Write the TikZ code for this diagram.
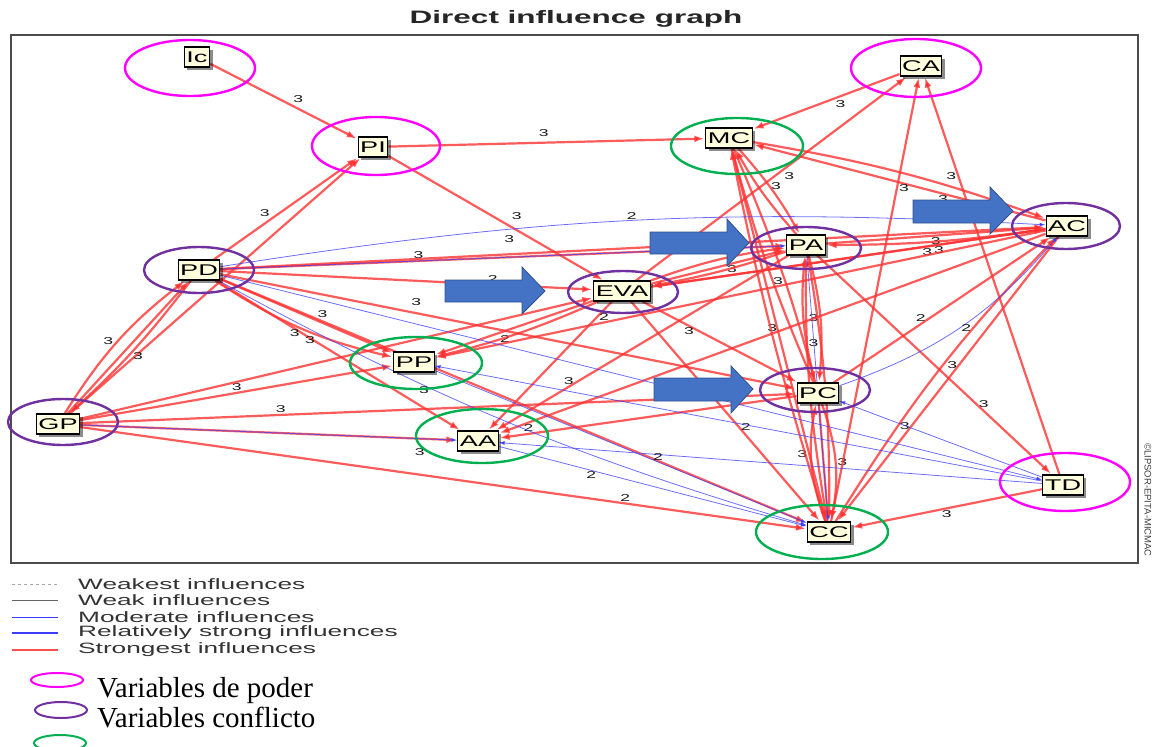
\documentclass[tikz,border=0pt]{standalone}
\usepackage{fontspec}
\setmainfont{Liberation Serif}
\newfontfamily\micmac[FakeStretch=1.75]{Liberation Sans}
\newfontfamily\plainsans{Liberation Sans}
\usetikzlibrary{arrows.meta,shadows}
\pgfdeclarelayer{edges}
\pgfsetlayers{edges,main}

\definecolor{strongred}{RGB}{255,50,50}
\definecolor{modblue}{RGB}{60,60,255}
\definecolor{boxfill}{RGB}{255,255,222}
\definecolor{poder}{RGB}{255,0,255}
\definecolor{conflicto}{RGB}{112,48,160}
\definecolor{otras}{RGB}{0,176,80}
\definecolor{bigblue}{RGB}{68,114,196}
\definecolor{bigblueline}{RGB}{47,82,143}

\tikzset{
  >={Latex[length=10pt,width=7pt]},
  var/.style={draw=black, line width=1.1pt, fill=boxfill, inner xsep=2pt, inner ysep=0pt,
    minimum height=20pt, text height=11pt, text depth=0pt,
    font=\micmac\fontsize{15.5}{15.5}\selectfont,
    drop shadow={shadow xshift=3pt, shadow yshift=-3pt, fill=black, opacity=0.45}},
  strongest/.style={->, draw=strongred, draw opacity=0.8, line width=2.2pt, shorten >=1pt},
  moderate/.style={-{Latex[length=6pt,width=4pt]}, draw=modblue, draw opacity=0.75, line width=0.8pt},
  wlabel/.style={font=\micmac\fontsize{10}{10}\selectfont, text=black!90, inner sep=1pt},
  ring/.style={line width=2.4pt},
  bigarrow/.style={fill=bigblue, draw=bigblueline, line width=0.8pt},
  legtext/.style={anchor=west, font=\micmac\fontsize{15}{15}\selectfont, text=black!80, inner sep=0pt},
}

\begin{document}
\begin{tikzpicture}[x=1pt, y=-1pt]
    \useasboundingbox (0,0) rectangle (1155,746);

    \node[font=\micmac\bfseries\fontsize{18}{18}\selectfont, text=black!85] (title) at (576,19) {Direct influence graph};
    \draw[black!70, line width=1.5pt] (11,35) rectangle (1138,563);

    % variables
    \node[var] (Ic) at (197,57) {Ic};
    \node[var] (PI) at (373,147) {PI};
    \node[var] (CA) at (921,66) {CA};
    \node[var] (MC) at (729,138) {MC};
    \node[var] (PD) at (199,270) {PD};
    \node[var] (EVA) at (622,291) {EVA};
    \node[var] (PA) at (806,245) {PA};
    \node[var] (AC) at (1067,226) {AC};
    \node[var] (PP) at (414,362) {PP};
    \node[var] (PC) at (818,393) {PC};
    \node[var] (GP) at (58,424) {GP};
    \node[var] (AA) at (478,441) {AA};
    \node[var] (TD) at (1063,485) {TD};
    \node[var] (CC) at (829,532) {CC};

    \begin{pgfonlayer}{edges}
    % strongest influences
    \draw[strongest] (Ic) -- node[wlabel, pos=.55, above right] {3} (PI);
    \draw[strongest] (PI) -- node[wlabel, pos=.49, above=4pt] {3} (MC);
    \draw[strongest] (PI) -- node[wlabel, pos=.55, above right=3pt] {3} (EVA);
    \draw[strongest] (PD) -- node[wlabel, pos=.4, above left] {3} (PI);
    \draw[strongest] (GP) -- (PI);
    \draw[strongest] (GP) to[bend left=10] node[wlabel, pos=.5, left=3pt] {3} (PD);
    \draw[strongest] (PD) to[bend left=5] node[wlabel, pos=.55, right=3pt] {3} (GP);
    \draw[strongest] (GP) -- (PD);
    \draw[strongest] (GP) -- node[wlabel, pos=.5, above] {3} (PP);
    \draw[strongest] (GP) -- (EVA);
    \draw[strongest] (GP) -- node[wlabel, pos=.28, above] {3} (PC);
    \draw[strongest] (GP) -- node[wlabel, pos=.9, below=8pt] {3} (AA);
    \draw[strongest] (GP) -- node[wlabel, pos=.75, above] {2} (CC);
    \draw[strongest] (PD) -- node[wlabel, pos=.35, above] {3} (PA);
    \draw[strongest] (PD) -- node[wlabel, pos=.35, above=10pt] {3} (AC);
    \draw[strongest] (PD) -- node[wlabel, pos=.73, above] {2} (EVA);
    \draw[strongest] (PD) -- node[wlabel, pos=.34, above=5pt] {3} (PC);
    \draw[strongest] (PD) -- node[wlabel, pos=.55, above right] {3} (PP);
    \draw[strongest] (PD) -- node[wlabel, pos=.35, left] {3} (AA);
    \draw[strongest] (PD) to[bend right=10] node[wlabel, pos=.6, below left] {3} (PP);
    \draw[strongest] (PD) -- (CC);
    \draw[strongest] (EVA) -- node[wlabel, pos=.6, below] {3} (PA);
    \draw[strongest] (EVA) to[bend left=6] node[wlabel, pos=.6, above] {3} (PA);
    \draw[strongest] (PA) to[bend left=4] (EVA);
    \draw[strongest] (EVA) -- node[wlabel, pos=.73, below] {3} (AC);
    \draw[strongest] (EVA) -- node[wlabel, pos=.6, below right] {2} (PP);
    \draw[strongest] (EVA) to[bend left=5] (PP);
    \draw[strongest] (EVA) -- node[wlabel, pos=.12, right] {2} (AA);
    \draw[strongest] (EVA) -- node[wlabel, pos=.3, below] {3} (PC);
    \draw[strongest] (EVA) -- node[wlabel, pos=.57, right] {2} (CC);
    \draw[strongest] (EVA) -- node[wlabel, pos=.54, below right] {3} (CA);
    \draw[strongest] (PA) -- node[wlabel, pos=.5, below] {3} (AC);
    \draw[strongest] (AC) to[bend left=4] (PA);
    \draw[strongest] (MC) to[bend left=6] node[wlabel, pos=.45, right] {3} (PA);
    \draw[strongest] (PA) to[bend left=6] (MC);
    \draw[strongest] (PA) to[bend left=10] node[wlabel, pos=.5, left] {3} (PC);
    \draw[strongest] (PC) to[bend left=10] node[wlabel, pos=.3, right] {3} (PA);
    \draw[strongest] (PA) to[bend left=5] (CC);
    \draw[strongest] (CC) to[bend left=5] (PA);
    \draw[strongest] (PA) -- node[wlabel, pos=.75, above] {3} (AA);
    \draw[strongest] (PA) -- node[wlabel, pos=.68, right] {3} (TD);
    \draw[strongest] (AC) -- node[wlabel, pos=.35, below] {3} (MC);
    \draw[strongest] (MC) to[bend left=5] (AC);
    \draw[strongest] (AC) -- node[wlabel, pos=.3, below] {3} (EVA);
    \draw[strongest] (AC) -- node[wlabel, pos=.5, above] {3} (AA);
    \draw[strongest] (AC) -- (PP);
    \draw[strongest] (PC) -- node[wlabel, pos=.4, above] {2} (AC);
    \draw[strongest] (AC) -- node[wlabel, pos=.45, left] {3} (CC);
    \draw[strongest] (CC) to[bend left=6] node[wlabel, pos=.3, right] {3} (AC);
    \draw[strongest] (MC) to[bend left=4] node[wlabel, pos=.58, left] {3} (PC);
    \draw[strongest] (PC) to[bend left=4] (MC);
    \draw[strongest] (MC) -- node[wlabel, pos=.82, left] {3} (CC);
    \draw[strongest] (CC) to[bend left=3] (MC);
    \draw[strongest] (PC) to[bend left=15] node[wlabel, pos=.5, right] {3} (CC);
    \draw[strongest] (CC) to[bend left=15] (PC);
    \draw[strongest] (PC) -- (CC);
    \draw[strongest] (TD) -- node[wlabel, pos=.5, below] {3} (CC);
    \draw[strongest] (CC) -- node[wlabel, pos=.75, right] {3} (CA);
    \draw[strongest] (TD) -- node[wlabel, pos=.75, left] {3} (CA);
    \draw[strongest] (CA) -- node[wlabel, pos=.45, below right] {3} (MC);
    \draw[strongest] (PC) -- node[wlabel, pos=.9, above] {2} (AA);
    % moderate influences
    \draw[moderate] (PD) to[bend left=6] node[wlabel, pos=.5, above] {2} (AC);
    \draw[moderate] (PD) -- (PA);
    \draw[moderate] (PD) -- (TD);
    \draw[moderate] (PD) to[bend right=6] node[wlabel, pos=.35, below] {3} (CC);
    \draw[moderate] (TD) -- (PP);
    \draw[moderate] (TD) -- (AA);
    \draw[moderate] (TD) -- (PC);
    \draw[moderate] (AA) -- node[wlabel, pos=.3, below] {2} (CC);
    \draw[moderate] (PP) -- node[wlabel, pos=.6, above] {2} (CC);
    \draw[moderate] (GP) -- (AA);
    \draw[moderate] (PC) to[bend right=15] node[wlabel, pos=.5, right] {2} (AC);
    \draw[moderate] (PA) -- (CC);
    \end{pgfonlayer}

    % rings
    \draw[ring, poder] (190,68) ellipse (65pt and 28pt);
    \draw[ring, poder] (376,146) ellipse (64pt and 29pt);
    \draw[ring, poder] (916,68) ellipse (65pt and 29pt);
    \draw[ring, poder] (1065,482) ellipse (65pt and 29pt);
    \draw[ring, conflicto] (199,270) ellipse (55pt and 23pt);
    \draw[ring, conflicto] (623,292) ellipse (55pt and 21pt);
    \draw[ring, conflicto] (806,248) ellipse (55pt and 21pt);
    \draw[ring, conflicto] (1066,226) ellipse (54pt and 23pt);
    \draw[ring, conflicto] (815,390) ellipse (55pt and 22pt);
    \draw[ring, conflicto] (63,422) ellipse (55pt and 23pt);
    \draw[ring, otras] (737,146) ellipse (66pt and 28pt);
    \draw[ring, otras] (416,363) ellipse (66pt and 26pt);
    \draw[ring, otras] (482,436) ellipse (66pt and 27pt);
    \draw[ring, otras] (822,532) ellipse (66pt and 27pt);

    % block arrows
    \draw[bigarrow] (445,280) -- (522,280) -- (522,267) -- (545,291) -- (522,314) -- (522,302) -- (445,302) -- cycle;
    \draw[bigarrow] (650,232) -- (727,232) -- (727,219) -- (749,243) -- (727,266) -- (727,254) -- (650,254) -- cycle;
    \draw[bigarrow] (913,200) -- (990,200) -- (990,187) -- (1013,211) -- (990,234) -- (990,223) -- (913,223) -- cycle;
    \draw[bigarrow] (654,378) -- (731,378) -- (731,366) -- (753,389) -- (731,413) -- (731,401) -- (654,401) -- cycle;

    \node[rotate=-90, font=\plainsans\fontsize{9.5}{9.5}\selectfont, text=black!75] (copy) at (1148,500) {©LIPSOR-EPITA-MICMAC};

    % legend
    \draw[gray!70, dashed, line width=0.6pt] (12,584) -- (57,584);
    \draw[black!60, line width=0.7pt] (12,600) -- (58,600);
    \draw[modblue, line width=0.8pt] (12,617) -- (58,617);
    \draw[modblue, line width=1.8pt] (12,633) -- (58,633);
    \draw[strongred!85, line width=2pt] (12,650) -- (58,650);
    \node[legtext] (weakest) at (78,584) {Weakest influences};
    \node[legtext] (weak) at (78,600) {Weak influences};
    \node[legtext] (moder) at (78,617) {Moderate influences};
    \node[legtext] (relstrong) at (78,633) {Relatively strong influences};
    \node[legtext] (strongst) at (78,650) {Strongest influences};

    \draw[ring, poder, line width=2pt] (57,680) ellipse (26pt and 7pt);
    \draw[ring, conflicto, line width=2pt] (61,710) ellipse (26pt and 8pt);
    \draw[ring, otras, line width=2pt] (60,743) ellipse (26pt and 8pt);
    \node[anchor=base west, font=\fontsize{29}{29}\selectfont, inner sep=0pt] (poderleg) at (97,697) {Variables de poder};
    \node[anchor=base west, font=\fontsize{29}{29}\selectfont, inner sep=0pt] (conflleg) at (97,727) {Variables conflicto};
\end{tikzpicture}
\end{document}
